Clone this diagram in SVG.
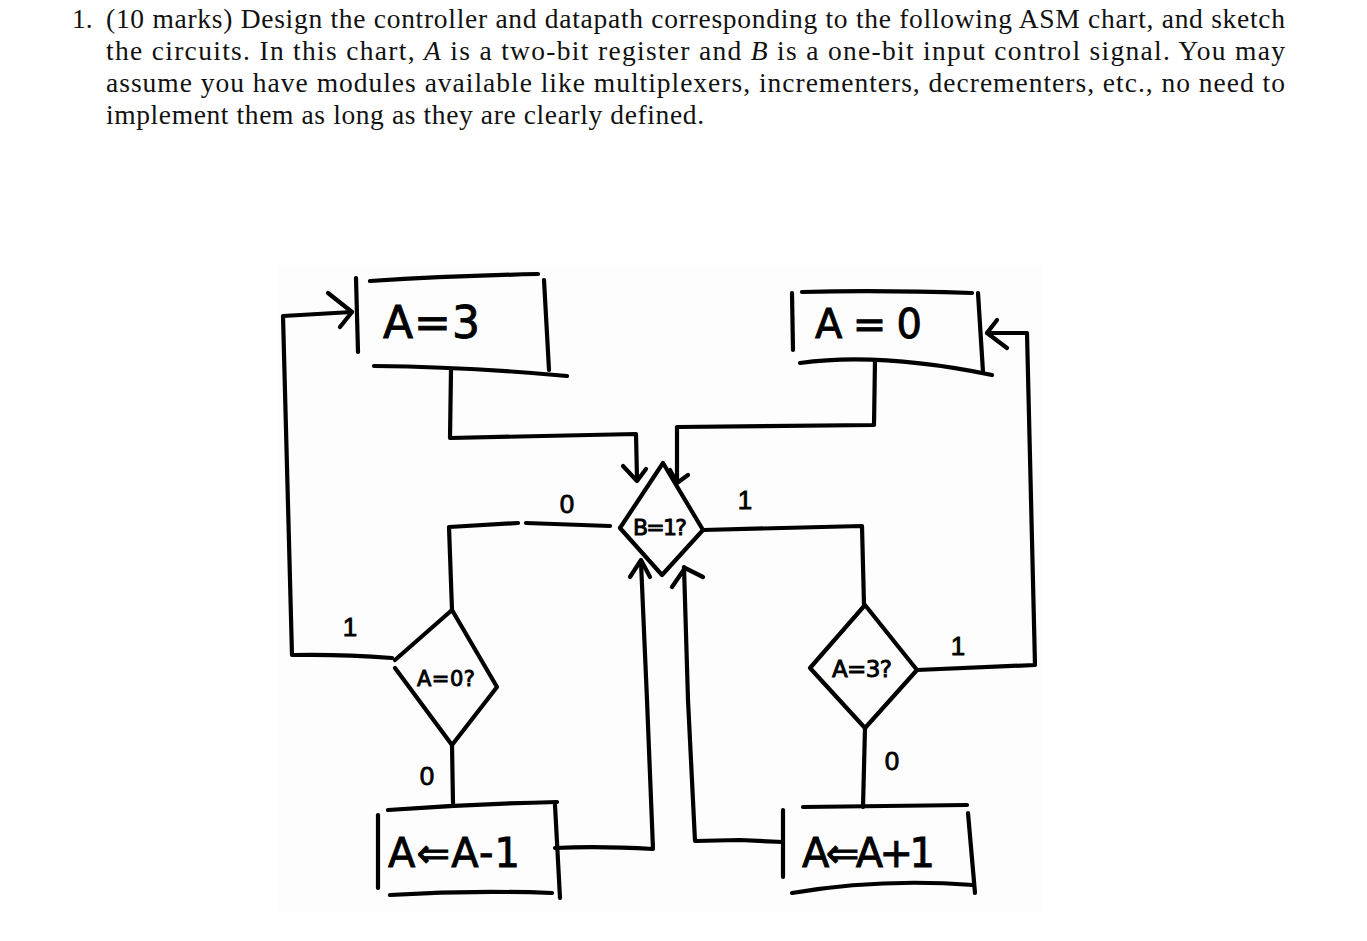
<svg xmlns="http://www.w3.org/2000/svg" width="1367" height="941" viewBox="0 0 1367 941">
<style>
.q{font-family:"Liberation Serif","Times New Roman",serif;font-size:27.5px;fill:#111}
.it{font-style:italic}
.ln{fill:none;stroke:#000;stroke-width:4.2;stroke-linecap:round;stroke-linejoin:round}
.hw{font-family:"DejaVu Sans","Noto Sans",sans-serif;fill:#000;stroke:#000;stroke-width:0.9}
.lb{font-family:"Liberation Sans","Noto Sans",sans-serif;fill:#000;stroke:#000;stroke-width:0.8;font-size:26px;text-anchor:middle}
</style>
<rect width="1367" height="941" fill="#fff"/>
<rect x="278" y="265" width="764" height="647" fill="#fdfdfd"/>
<g id="question">
<text class="q" x="72" y="28">1.</text>
<text class="q" x="106" y="28" textLength="1179" lengthAdjust="spacing">(10 marks) Design the controller and datapath corresponding to the following ASM chart, and sketch</text>
<text class="q" x="106" y="60" textLength="1179" lengthAdjust="spacing">the circuits. In this chart, <tspan class="it">A</tspan> is a two-bit register and <tspan class="it">B</tspan> is a one-bit input control signal. You may</text>
<text class="q" x="106" y="92" textLength="1179" lengthAdjust="spacing">assume you have modules available like multiplexers, incrementers, decrementers, etc., no need to</text>
<text class="q" x="106" y="124" textLength="598" lengthAdjust="spacing">implement them as long as they are clearly defined.</text>
</g>
<g id="connectors">
<path class="ln" d="M392 658 Q340 654 292 655 L283 316 L352 312"/>
<path class="ln" d="M328 293 L352 312 L340 327"/>
<path class="ln" d="M451 370 L450 438 L636 434 L637 478"/>
<path class="ln" d="M623 466 L637 481 L646 469"/>
<path class="ln" d="M875 360 L874 425 L677 427 L677 480"/>
<path class="ln" d="M670 470 L677 483 L688 475"/>
<path class="ln" d="M610 526 L526 523"/>
<path class="ln" d="M518 523 L449 527 L452 610"/>
<path class="ln" d="M703 530 L862 526 L864 605"/>
<path class="ln" d="M452 745 L453 803"/>
<path class="ln" d="M917 670 L1035 665 L1027 333 L987 333"/>
<path class="ln" d="M997 320 L987 333 L1007 348"/>
<path class="ln" d="M865 728 L863 807"/>
<path class="ln" d="M555 848 Q600 846 653 849 L647 700 L641 562"/>
<path class="ln" d="M630 577 L641 560 L650 577"/>
<path class="ln" d="M783 842 L740 840 L695 841 L688 700 L684 567"/>
<path class="ln" d="M672 587 L685 568 L703 577"/>
<g id="branch-labels">
<text class="lb" x="567" y="513">0</text>
<text class="lb" x="745" y="509">1</text>
<text class="lb" x="350" y="636">1</text>
<text class="lb" x="958" y="655">1</text>
<text class="lb" x="427" y="785">0</text>
<text class="lb" x="892" y="770">0</text>
</g>
</g>
<g id="state-A3">
<path class="ln" d="M356 278 L358 352"/>
<path class="ln" d="M370 281 Q450 276 538 274"/>
<path class="ln" d="M544 280 L549 370"/>
<path class="ln" d="M374 366 Q470 367 567 376"/>
<text class="hw" x="383" y="338" font-size="44" textLength="97" lengthAdjust="spacing">A = 3</text>
</g>
<g id="state-A0">
<path class="ln" d="M792 293 L793 350"/>
<path class="ln" d="M802 292 Q880 290 972 293"/>
<path class="ln" d="M978 293 L983 372"/>
<path class="ln" d="M800 363 Q880 352 992 375"/>
<text class="hw" x="815" y="338" font-size="40" textLength="107" lengthAdjust="spacing">A = 0</text>
</g>
<g id="decision-B">
<path class="ln" d="M663 463 L703 530 L662 575 L620 528 Z"/>
<text class="hw" x="633" y="535" font-size="22" textLength="54" lengthAdjust="spacing">B=1?</text>
</g>
<g id="decision-A0">
<path class="ln" d="M452 610 L497 687 L452 745 L395 668"/>
<path class="ln" d="M452 610 L395 660"/>
<text class="hw" x="417" y="686" font-size="21" textLength="58" lengthAdjust="spacing">A=0?</text>
</g>
<g id="decision-A3">
<path class="ln" d="M865 605 L917 670 L865 728 L810 668 Z"/>
<text class="hw" x="832" y="677" font-size="23" textLength="60" lengthAdjust="spacing">A=3?</text>
</g>
<g id="state-dec">
<path class="ln" d="M388 810 Q470 804 557 802"/>
<path class="ln" d="M378 815 L378 888"/>
<path class="ln" d="M555 805 L560 898"/>
<path class="ln" d="M390 895 Q470 890 552 893"/>
<text class="hw" x="388" y="867" font-size="40" textLength="132" lengthAdjust="spacing">A⇐A-1</text>
</g>
<g id="state-inc">
<path class="ln" d="M803 807 L967 805"/>
<path class="ln" d="M783 810 L783 877"/>
<path class="ln" d="M968 813 L975 893"/>
<path class="ln" d="M792 893 Q880 878 973 885"/>
<text class="hw" x="802" y="867" font-size="40" textLength="133" lengthAdjust="spacing">A⇐A+1</text>
</g>
</svg>
